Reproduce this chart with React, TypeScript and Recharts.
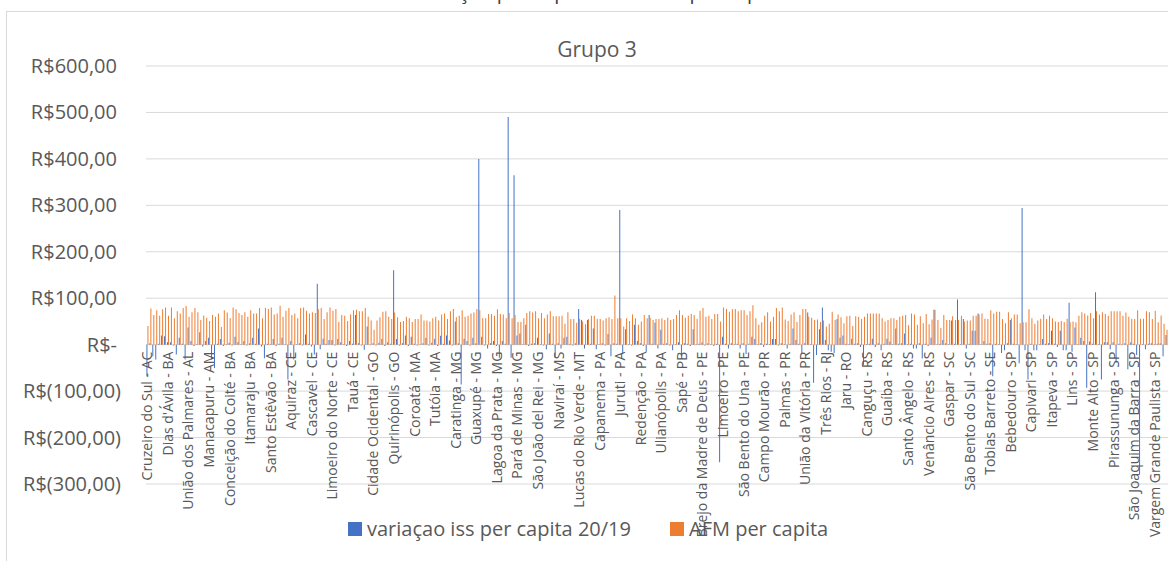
import React from 'react';
import { BarChart, Bar, XAxis, YAxis, CartesianGrid, Legend } from 'recharts';

// municipality labels shown on the axis (one every 7 categories)
const tickLabels = [
  'Cruzeiro do Sul - AC', "Dias d'Ávila - BA", 'União dos Palmares - AL', 'Manacapuru - AM',
  'Conceição do Coité - BA', 'Itamaraju - BA', 'Santo Estêvão - BA', 'Aquiraz - CE', 'Cascavel - CE',
  'Limoeiro do Norte - CE', 'Tauá - CE', 'Cidade Ocidental - GO', 'Quirinópolis - GO', 'Coroatá - MA',
  'Tutóia - MA', 'Caratinga - MG', 'Guaxupé - MG', 'Lagoa da Prata - MG', 'Pará de Minas - MG',
  'São João del Rei - MG', 'Naviraí - MS', 'Lucas do Rio Verde - MT', 'Capanema - PA', 'Juruti - PA',
  'Redenção - PA', 'Ulianópolis - PA', 'Sapé - PB', 'Brejo da Madre de Deus - PE', 'Limoeiro - PE',
  'São Bento do Una - PE', 'Campo Mourão - PR', 'Palmas - PR', 'União da Vitória - PR', 'Três Rios - RJ',
  'Jaru - RO', 'Canguçu - RS', 'Guaíba - RS', 'Santo Ângelo - RS', 'Venâncio Aires - RS', 'Gaspar - SC',
  'São Bento do Sul - SC', 'Tobias Barreto - SE', 'Bebedouro - SP', 'Capivari - SP', 'Itapeva - SP',
  'Lins - SP', 'Monte Alto - SP', 'Pirassununga - SP', 'São Joaquim da Barra - SP', 'Vargem Grande Paulista - SP',
];
const LABEL_STEP = 7;

const afmPerCapita = [
  40, 78, 64, 74, 62, 76, 80, 62, 80, 57, 72, 67, 79, 83, 60, 70, 79, 70, 53, 63,
  58, 51, 64, 60, 67, 38, 74, 69, 57, 80, 76, 68, 64, 70, 60, 74, 67, 67, 79, 57,
  79, 77, 80, 65, 67, 84, 60, 73, 79, 64, 67, 57, 79, 80, 73, 67, 70, 68, 77, 79,
  55, 70, 80, 73, 77, 49, 64, 62, 51, 65, 74, 75, 72, 72, 79, 60, 52, 32, 52, 59,
  71, 72, 60, 55, 69, 59, 49, 51, 60, 57, 49, 55, 55, 65, 52, 52, 50,
  57, 60, 52, 65, 67, 55, 72, 77, 59, 62, 74, 60, 62, 67, 69, 77, 74, 57, 57, 66,
  66, 62, 76, 66, 65, 57, 68, 57, 64, 49, 49, 57, 68, 72, 69, 72, 57, 68, 57, 65,
  72, 61, 61, 61, 62, 45, 70, 55, 55, 47, 55, 50, 44, 55, 62, 62, 55, 55, 52, 57,
  59, 55, 106, 57, 57, 39, 57, 51, 65, 57, 43, 50, 64, 57, 58, 53, 55, 55, 57, 53,
  58, 53, 55, 64, 74, 64, 58, 62, 66, 64, 55, 73, 79, 60, 62, 55, 66, 66, 50, 80,
  77, 71,
  76, 77, 72, 74, 74, 64, 72, 85, 57, 43, 48, 62, 70, 50, 60, 79, 72, 80, 54, 51,
  65, 70, 49, 64, 77, 77, 60, 58, 53, 54, 49, 52, 39, 45, 71, 53, 65, 59, 46, 61,
  62, 40, 61, 60, 55, 60, 67, 67, 67, 67, 67, 57, 50, 53, 57, 57, 53, 60, 62, 64,
  42, 67, 65, 43, 61, 46, 66, 44, 54, 75, 53, 36, 64, 53, 53, 61, 53, 53, 62, 50,
  52, 52, 62, 62, 65, 67, 56, 55, 74, 67, 71, 71, 55, 46, 70, 57, 65, 65, 46, 48,
  48, 76, 57, 45, 52, 56, 65, 55, 62, 57, 50, 49, 51, 49, 56, 48, 50, 48, 62, 70,
  67, 63, 68, 57, 72, 65, 70, 66, 62, 72, 72, 72, 72, 62, 69, 60, 56, 55, 74, 56,
  56, 72, 70, 55, 73, 48, 63, 45, 32,
];

const issVariation = [
  -68, 3, -25, -32, 2, 20, 18, 5, 5, -2, -21, 15, 2, -32, 37, 8, -3, 1, 27, -4,
  8, 15, -32, -50, 2, 12, -3, 1, 4, -2, 17, 6, 1, 8, -2, 3, 15, 2, 35, -4,
  -29, 2, 1, 12, -3, 2, 15, 1, -75, 8, -32, 1, 3, -2, 22, 2, -4, -21, 131, -10,
  13, 2, 10, 10, -2, 12, 5, 1, -3, 8, 2, 64, 3, -2, -11, 39, 1, 3, -2, 4,
  12, -3, 5, 2, 160, 12, -2, 3, 20, -3, 17, 2, -2, 1, 3, 15, -2, 4, 13, -3,
  19, 2, 20, 9, -2, 50, 3, -86, 13, 8, -2, 15, 3, 400, 17, -2, -8, 3, 8, -3,
  -28, 8, 2, 490, -28, 365, 20, 24, 1, 43, -3, 2, 3, 15, 1, -2, -10, 24, 2, -27,
  3, -8, 15, 17, 2, -2, 3, 77, 53, -8, 53, 2, 35, -10, 1, 3, -2, 23, -25, 3,
  2, 290, -20, 33, 1, -2, 43, 8, 3, -3, -17, 64, 2, 47, -8, 32, 2, 3, -2, -12,
  1, 5, -24, 3, 2, -3, 33, 1, 2, 5, -2, 3, 1, -3, 2, -253, 17, 2, -8, 3,
  1, 2, -8, 3, -20, 2, 17, 12, 1, 3, -5, 2, 1, 12, 12, -2, 3, 1, -8, 2,
  35, 10, 2, -18, 3, 69, 1, -82, -22, 33, 80, 10, -12, -15, -18, 55, 15, 20, 2, 1,
  13, 2, 3, -5, -44, 1, 2, 13, -5, 3, -12, 2, 13, 7, 1, 35, 2, 3, 24, 1,
  2, -8, -8, 3, -30, 2, -3, 15, 75, 1, 2, 10, 3, 1, 52, 2, 97, 1, 55, -8,
  2, 30, 30, 67, 1, 8, 2, 3, -68, 2, 1, -18, -12, 3, 53, 2, 1, -40, 294, -12,
  -75, 2, -12, -12, 1, 12, 2, 3, 30, 2, -5, 30, -12, -12, 90, -15, 37, 1, 15, 8,
  -93, 7, 2, 113, 1, -75, 5, 5, -10, 5, -39, 2, 1, 3, -53, 5, 2, -22, -280, 1,
  -10, 2, 3, 1, 2, 3, -25, 21,
];

const seriesKeys = ['iss', 'afm'];
const seriesNames = ['variaçao iss per capita 20/19', 'AFM per capita'];
const seriesColors = ['#4472C4', '#ED7D31'];
const yTicks = [-300, -200, -100, 0, 100, 200, 300, 400, 500, 600];

const rows = afmPerCapita.map((afm, i) => ({ n: i, iss: issVariation[i], afm }));

const FONT = '"Open Sans", sans-serif';
const TEXT = '#595959';
const W = 1168;
const H = 561;
const TOP = 66;
const BOTTOM = 57;
const XAXIS_H = 20;
const PLOT_H = H - TOP - BOTTOM - XAXIS_H;
const Y_MIN = yTicks[0];
const Y_MAX = yTicks[yTicks.length - 1];
const ZERO_Y = TOP + (PLOT_H * Y_MAX) / (Y_MAX - Y_MIN);

const money = (v: number) => (v === 0 ? 'R$-' : v < 0 ? `R$(${-v},00)` : `R$${v},00`);

const YTick = ({ x, y, payload }: any) => (
  <text x={payload.value < 0 ? x + 4 : x} y={y} dy="0.35em" textAnchor="end" fill={TEXT} fontSize={20} fontFamily={FONT}>
    {money(payload.value)}
  </text>
);

const CatTick = ({ x, payload }: any) => {
  const label = tickLabels[payload.value / LABEL_STEP];
  if (!label) return null;
  const ty = ZERO_Y + 7;
  return (
    <text x={x} y={ty} dy="0.35em" textAnchor="end" transform={`rotate(-90 ${x} ${ty})`} fill={TEXT} fontSize={14} fontFamily={FONT}>
      {label}
    </text>
  );
};

// legend drawn in series order (recharts would sort it by name)
const LegendBox = () => (
  <div style={{ display: 'flex', alignItems: 'center', marginLeft: 348, fontFamily: FONT, fontSize: 20, lineHeight: '20px', color: TEXT, whiteSpace: 'nowrap' }}>
    {seriesNames.map((name, i) => (
      <span key={name} style={{ display: 'flex', alignItems: 'center', marginRight: 39 }}>
        <span style={{ width: 14, height: 14, background: seriesColors[i], marginRight: 5, display: 'inline-block' }} />
        {name}
      </span>
    ))}
  </div>
);

export default function App() {
  return (
    <div style={{ position: 'absolute', left: 0, top: 0, width: W, height: H, overflow: 'hidden', background: '#fff' }}>
      <div style={{ position: 'absolute', left: 6, top: 11, width: W, height: H, borderLeft: '1px solid #d9d9d9', borderTop: '1px solid #d9d9d9' }} />
      <BarChart width={W} height={H} data={rows} margin={{ top: TOP, right: 0, bottom: BOTTOM, left: 0 }} barCategoryGap="15%" barGap={0}>
        <CartesianGrid vertical={false} stroke="#d9d9d9" />
        <XAxis dataKey="n" type="category" interval={LABEL_STEP - 1} height={XAXIS_H} axisLine={false} tickLine={false} tick={(p: any) => <CatTick {...p} />} />
        <YAxis width={146} domain={[Y_MIN, Y_MAX]} ticks={yTicks} interval={0} axisLine={false} tickLine={false} tickMargin={23} tick={(p: any) => <YTick {...p} />} />
        <Legend layout="horizontal" verticalAlign="middle" align="center" wrapperStyle={{ top: 519, left: 0, width: W }} content={() => <LegendBox />} />
        {seriesKeys.map((k, i) => (
          <Bar key={k} dataKey={k} name={seriesNames[i]} fill={seriesColors[i]} isAnimationActive={false} />
        ))}
      </BarChart>
      <svg width={W} height={H} style={{ position: 'absolute', left: 0, top: 0, pointerEvents: 'none' }}>
        <text x={597} y={-1} textAnchor="middle" fill="#404040" fontSize={20} fontFamily={FONT}>Variação per capita ISS x AFM per capita</text>
        <text x={597} y={57} textAnchor="middle" fill={TEXT} fontSize={21} fontFamily={FONT}>Grupo 3</text>
      </svg>
    </div>
  );
}
